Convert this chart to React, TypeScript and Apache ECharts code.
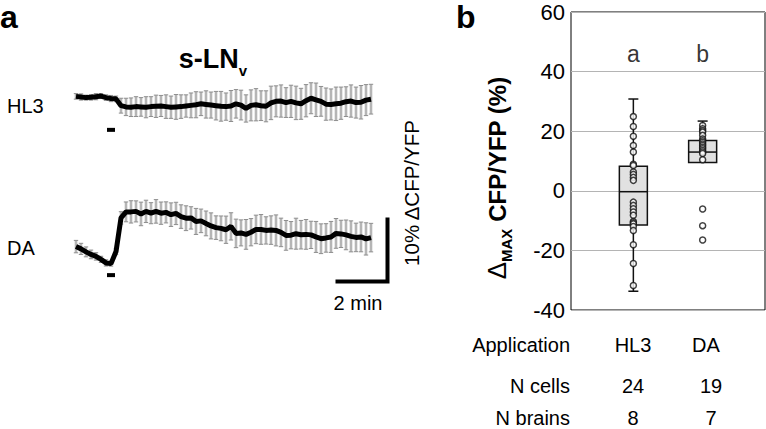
import React, { useEffect, useRef } from "react";
import * as echarts from "echarts";

// ---------- Panel a: traces (ΔCFP/YFP, %) sampled every 0.2 min ----------
const sampleStepMin = 0.2;
const hl3Trace = [0.1, 0.0, -0.1, -0.05, 0.05, 0.15, -0.1, -0.25, -0.3, -1.4, -1.6, -1.65, -1.55, -1.6, -1.65, -1.55, -1.5, -1.45, -1.55, -1.65, -1.6, -1.55, -1.45, -1.35, -1.25, -1.1, -1.2, -1.3, -1.4, -1.5, -1.55, -1.45, -1.1, -1.3, -1.85, -1.35, -1.25, -1.4, -1.5, -0.95, -0.7, -0.65, -0.9, -0.7, -0.95, -1.1, -0.6, -0.2, -0.45, -0.7, -1.15, -1.2, -1.1, -1.0, -0.75, -0.65, -0.9, -0.85, -0.5, -0.35];
const hl3Sem = [0.45, 0.5, 0.4, 0.45, 0.5, 0.4, 0.45, 0.5, 0.45, 1.2, 1.4, 1.5, 1.6, 1.5, 1.7, 1.6, 1.8, 1.7, 1.9, 1.8, 2.0, 1.9, 1.8, 2.0, 2.1, 1.9, 2.2, 2.1, 2.3, 2.4, 2.2, 2.5, 2.3, 2.4, 2.2, 2.5, 2.6, 2.4, 2.5, 2.7, 2.5, 2.6, 2.4, 2.6, 2.7, 2.5, 2.6, 2.5, 2.7, 2.4, 2.6, 2.5, 2.7, 2.6, 2.4, 2.6, 2.5, 2.7, 2.5, 2.4];
const daTrace = [0, -0.37, -0.85, -1.26, -1.58, -2.06, -2.63, -2.75, -0.8, 4.63, 5.6, 5.6, 5.68, 5.27, 5.68, 5.39, 5.68, 5.39, 5.52, 5.15, 5.35, 4.84, 4.58, 4.63, 4.06, 4.15, 3.74, 3.34, 3.06, 2.94, 2.72, 3.26, 2.13, 2.21, 1.97, 2.32, 2.77, 2.77, 2.61, 2.66, 2.61, 2.29, 1.81, 1.84, 2.08, 1.92, 1.97, 1.89, 1.56, 1.27, 1.4, 1.56, 2.13, 2.05, 1.89, 1.65, 1.48, 1.56, 1.24, 1.45];
const daSem = [1.0, 0.9, 0.8, 0.7, 0.6, 0.5, 0.5, 0.4, 0.5, 1.0, 1.6, 1.8, 1.7, 1.9, 1.8, 1.7, 1.9, 1.8, 1.7, 1.9, 1.8, 1.9, 2.0, 1.8, 2.1, 1.9, 2.0, 2.1, 1.9, 2.0, 2.2, 2.2, 2.3, 2.1, 2.4, 2.2, 2.3, 2.4, 2.2, 2.3, 2.5, 2.3, 2.4, 2.2, 2.5, 2.3, 2.4, 2.2, 2.5, 2.4, 2.3, 2.5, 2.4, 2.2, 2.4, 2.5, 2.3, 2.4, 2.6, 2.3];
const stimulusWindowMin = [1.24, 1.56];
const scaleBarMin = 2;
const scaleBarPct = 10;
const traceLabels = ["HL3", "DA"];

// ---------- Panel b: box plot of Δmax CFP/YFP (%) ----------
const boxCategories = ["HL3", "DA"];
// [min, Q1, median, Q3, max]
const hl3Box = [-33.7, -11.5, -0.3, 8.2, 30.8];
const daBox = [9.5, 9.5, 13.0, 16.9, 23.4];
const hl3Cells = [24.9, 21.6, 18.3, 15.2, 13.0, 8.9, 8.5, 6.3, 5.5, 4.5, 3.5, -3.8, -4.9, -6.0, -7.1, -8.2, -10.3, -10.7, -11.1, -12.0, -13.3, -18.1, -24.4, -31.8];
const daCells = [21.9, 20.8, 20.2, 19.7, 18.6, 17.4, 16.8, 16.3, 15.7, 15.2, 14.6, 14.1, 13.5, 13.0, 12.5, 10.4, -6.1, -11.7, -16.5];
const sigLetters = ["a", "b"];
const yTicks = [-40, -20, 0, 20, 40, 60];

// ---------- table under panel b ----------
const tableRows = ["Application", "N cells", "N brains"];
const hl3Column = ["HL3", "24", "8"];
const daColumn = ["DA", "19", "7"];

const FONT = "'Liberation Sans', Arial, Helvetica, sans-serif";

export default function App() {
  const ref = useRef<HTMLDivElement>(null);

  useEffect(() => {
    if (!ref.current) return;
    const chart = echarts.init(ref.current, null, { renderer: "svg" });

    const times = hl3Trace.map((_, i) => +(i * sampleStepMin).toFixed(2));
    const hl3Data = times.map((t, i) => [t, hl3Trace[i]]);
    const daData = times.map((t, i) => [t, daTrace[i]]);
    const hl3Err = times.map((t, i) => [t, hl3Trace[i], hl3Sem[i]]);
    const daErr = times.map((t, i) => [t, daTrace[i], daSem[i]]);

    const errRender = (params: any, api: any) => {
      const x = api.value(0);
      const m = api.value(1);
      const e = api.value(2);
      const top = api.coord([x, m + e]);
      const bot = api.coord([x, m - e]);
      const cw = 2.2;
      return {
        type: "group",
        children: [
          { type: "line", shape: { x1: top[0], y1: top[1], x2: bot[0], y2: bot[1] }, style: { stroke: "#b5b5b5", lineWidth: 2.6 } },
          { type: "line", shape: { x1: top[0] - cw, y1: top[1], x2: top[0] + cw, y2: top[1] }, style: { stroke: "#8e8e8e", lineWidth: 1 } },
          { type: "line", shape: { x1: bot[0] - cw, y1: bot[1], x2: bot[0] + cw, y2: bot[1] }, style: { stroke: "#8e8e8e", lineWidth: 1 } },
        ],
      };
    };

    const stimLevelHL3 = -5.3;
    const stimLevelDA = -4.6;
    const scaleOrigin = [10.46, -5.63];

    const boxData = [hl3Box, daBox].map((b, i) => [i + 1, ...b]);
    const boxRender = (params: any, api: any) => {
      const x = api.value(0);
      const mn = api.value(1), q1 = api.value(2), md = api.value(3), q3 = api.value(4), mx = api.value(5);
      const pMin = api.coord([x, mn]);
      const pQ1 = api.coord([x, q1]);
      const pMd = api.coord([x, md]);
      const pQ3 = api.coord([x, q3]);
      const pMax = api.coord([x, mx]);
      const hb = 14;
      const hc = 5;
      const st = { stroke: "#111", lineWidth: 1.5 };
      const children: any[] = [
        { type: "line", shape: { x1: pQ3[0], y1: pQ3[1], x2: pMax[0], y2: pMax[1] }, style: st },
        { type: "line", shape: { x1: pMax[0] - hc, y1: pMax[1], x2: pMax[0] + hc, y2: pMax[1] }, style: st },
      ];
      if (mn < q1) {
        children.push({ type: "line", shape: { x1: pMin[0], y1: pMin[1], x2: pQ1[0], y2: pQ1[1] }, style: st });
        children.push({ type: "line", shape: { x1: pMin[0] - hc, y1: pMin[1], x2: pMin[0] + hc, y2: pMin[1] }, style: st });
      }
      children.push({
        type: "rect",
        shape: { x: pQ3[0] - hb, y: pQ3[1], width: hb * 2, height: pQ1[1] - pQ3[1] },
        style: { fill: "#e1e1e1", stroke: "#111", lineWidth: 1.5 },
      });
      children.push({ type: "line", shape: { x1: pMd[0] - hb, y1: pMd[1], x2: pMd[0] + hb, y2: pMd[1] }, style: st });
      return { type: "group", children };
    };

    const cellData = [
      ...hl3Cells.map((v) => [1, v]),
      ...daCells.map((v) => [2, v]),
    ];
    const letterData = sigLetters.map((_, i) => [i + 1, 46]);

    const txt = (text: string, x: number, y: number, fontSize: number, align = "left", extra: any = {}) => ({
      type: "text",
      x,
      y,
      style: { text, fontSize, fontFamily: FONT, fill: "#000", align, verticalAlign: "middle", ...extra },
    });

    const tableY = [345, 386, 418];
    const graphics: any[] = [
      txt("a", 0, 16.5, 32, "left", { fontWeight: "bold" }),
      txt("b", 456, 16.5, 32, "left", { fontWeight: "bold" }),
      {
        type: "text",
        x: 213,
        y: 59,
        style: {
          text: "{a|s-LN}{b|v}",
          align: "center",
          verticalAlign: "middle",
          fill: "#000",
          rich: {
            a: { fontSize: 27, fontWeight: "bold", fontFamily: FONT, lineHeight: 38, verticalAlign: "middle", fill: "#000" },
            b: { fontSize: 15, fontWeight: "bold", fontFamily: FONT, lineHeight: 38, verticalAlign: "bottom", fill: "#000" },
          },
        },
      },
      txt(traceLabels[0], 7, 106, 20),
      txt(traceLabels[1], 7, 248, 20),
      txt(`${scaleBarMin} min`, 358, 303, 20, "center"),
      {
        type: "text",
        x: 411,
        y: 193,
        rotation: Math.PI / 2,
        style: { text: `${scaleBarPct}% ΔCFP/YFP`, fontSize: 20.5, fontFamily: FONT, fill: "#000", align: "center", verticalAlign: "middle" },
      },
      {
        type: "text",
        x: 497,
        y: 178,
        rotation: Math.PI / 2,
        style: {
          text: "{d|Δ}{m|MAX}{t| CFP/YFP (%)}",
          align: "center",
          verticalAlign: "middle",
          fill: "#000",
          rich: {
            d: { fontSize: 26, fontFamily: FONT, lineHeight: 34, verticalAlign: "middle", fill: "#000" },
            m: { fontSize: 15, fontWeight: "bold", fontFamily: FONT, lineHeight: 34, verticalAlign: "bottom", fill: "#000" },
            t: { fontSize: 24, fontWeight: "bold", fontFamily: FONT, lineHeight: 34, verticalAlign: "middle", fill: "#000" },
          },
        },
      },
      ...tableRows.map((r, i) => txt(r, 570, tableY[i], 20, "right")),
      ...hl3Column.map((r, i) => txt(r, 633, tableY[i], 20, "center")),
      ...daColumn.map((r, i) => txt(r, i === 0 ? 706 : 711, tableY[i], 20, "center")),
    ];

    const option: any = {
      animation: false,
      backgroundColor: "#fff",
      grid: [
        { left: 76, top: 72.2, width: 312.5, height: 62 },
        { left: 76, top: 200.1, width: 312.5, height: 89.9 },
        { left: 571, top: 12, width: 194, height: 298, show: true, borderColor: "#000", borderWidth: 1, backgroundColor: "transparent" },
      ],
      xAxis: [
        { gridIndex: 0, type: "value", min: 0, max: 12.5, show: false },
        { gridIndex: 1, type: "value", min: 0, max: 12.5, show: false },
        { gridIndex: 2, type: "value", min: 0.1, max: 2.9, show: false },
      ],
      yAxis: [
        { gridIndex: 0, type: "value", min: -6, max: 4, show: false },
        { gridIndex: 1, type: "value", min: -7, max: 7.5, show: false },
        {
          gridIndex: 2,
          type: "value",
          min: yTicks[0],
          max: yTicks[yTicks.length - 1],
          interval: 20,
          axisLine: { show: false },
          axisTick: { show: false },
          axisLabel: { fontSize: 22, color: "#000", fontFamily: FONT, margin: 6 },
          splitLine: { show: true, lineStyle: { color: "#b4b4b4", width: 1 } },
        },
      ],
      series: [
        { type: "custom", xAxisIndex: 0, yAxisIndex: 0, renderItem: errRender, data: hl3Err, encode: { x: 0, y: 1 }, z: 1, silent: true },
        { type: "custom", xAxisIndex: 1, yAxisIndex: 1, renderItem: errRender, data: daErr, encode: { x: 0, y: 1 }, z: 1, silent: true },
        { type: "line", xAxisIndex: 0, yAxisIndex: 0, data: hl3Data, showSymbol: false, symbol: "none", clip: false, lineStyle: { color: "#000", width: 5 }, z: 3 },
        { type: "line", xAxisIndex: 1, yAxisIndex: 1, data: daData, showSymbol: false, symbol: "none", clip: false, lineStyle: { color: "#000", width: 5 }, z: 3 },
        { type: "line", xAxisIndex: 0, yAxisIndex: 0, data: stimulusWindowMin.map((t) => [t, stimLevelHL3]), symbol: "none", clip: false, lineStyle: { color: "#000", width: 4 } },
        { type: "line", xAxisIndex: 1, yAxisIndex: 1, data: stimulusWindowMin.map((t) => [t, stimLevelDA]), symbol: "none", clip: false, lineStyle: { color: "#000", width: 4 } },
        {
          type: "line",
          xAxisIndex: 1,
          yAxisIndex: 1,
          data: [
            [scaleOrigin[0], scaleOrigin[1]],
            [scaleOrigin[0] + scaleBarMin, scaleOrigin[1]],
            [scaleOrigin[0] + scaleBarMin, scaleOrigin[1] + scaleBarPct],
          ],
          symbol: "none",
          clip: false,
          lineStyle: { color: "#000", width: 4, cap: "square", join: "miter" },
        },
        { type: "custom", xAxisIndex: 2, yAxisIndex: 2, renderItem: boxRender, data: boxData, encode: { x: 0, y: [1, 5] }, z: 2, silent: true },
        {
          type: "scatter",
          xAxisIndex: 2,
          yAxisIndex: 2,
          data: cellData,
          symbol: "circle",
          symbolSize: 6,
          itemStyle: { color: "#fff", borderColor: "#111", borderWidth: 1.5 },
          z: 4,
          silent: true,
        },
        {
          type: "scatter",
          xAxisIndex: 2,
          yAxisIndex: 2,
          data: letterData,
          symbolSize: 0,
          label: {
            show: true,
            position: "inside",
            formatter: (p: any) => sigLetters[p.dataIndex],
            fontSize: 23,
            color: "#000",
            fontFamily: FONT,
          },
          silent: true,
        },
      ],
      graphic: graphics,
    };

    chart.setOption(option);
    return () => chart.dispose();
  }, []);

  return <div ref={ref} style={{ position: "absolute", left: 0, top: 0, width: 766, height: 429, background: "#fff" }} />;
}
